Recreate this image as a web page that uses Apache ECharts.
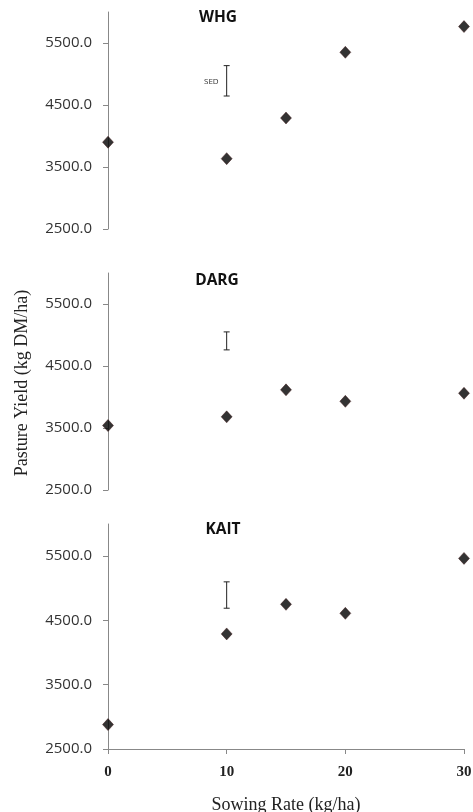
<!DOCTYPE html>
<html><head><meta charset="utf-8">
<script src="https://cdn.jsdelivr.net/npm/echarts@6/dist/echarts.min.js"></script>
<style>html,body{margin:0;padding:0;background:#fff}#c{width:473px;height:812px}</style>
</head><body><div id="c"></div>
<script>
const sowingRates = [0, 10, 15, 20, 30];
const panelNames = ['WHG', 'DARG', 'KAIT'];
const whgYield = [3900, 3635, 4290, 5350, 5765];
const dargYield = [3540, 3680, 4115, 3930, 4060];
const kaitYield = [2880, 4290, 4750, 4610, 5465];
const sedX = [10, 10, 10];
const sedLow = [4645, 4760, 4690];
const sedHigh = [5135, 5050, 5100];
const yTicks = [2500, 3500, 4500, 5500];
const xTicks = [0, 10, 20, 30];

const yields = [whgYield, dargYield, kaitYield];
const grids = [
  {left: 108, right: 9, top: 12, height: 217, outerBoundsMode: 'none'},
  {left: 108, right: 9, top: 273, height: 217, outerBoundsMode: 'none'},
  {left: 108, right: 9, top: 524, height: 225, outerBoundsMode: 'none'}
];
const titleTops = [10, 273, 522];
const titleLefts = [218, 217, 223];

const chart = echarts.init(document.getElementById('c'));
const option = {
  animation: false,
  backgroundColor: '#fff',
  title: panelNames.map((n, i) => ({
    text: n, left: titleLefts[i], top: titleTops[i], textAlign: 'center', padding: 0,
    textStyle: {fontFamily: 'Open Sans', fontWeight: 'bold', fontSize: 15.5, color: '#111'}
  })),
  grid: grids,
  xAxis: grids.map((g, i) => ({
    type: 'value', gridIndex: i, min: 0, max: 30, interval: 10,
    show: i === 2,
    splitLine: {show: false},
    axisLine: {show: true, lineStyle: {color: '#888'}},
    axisTick: {show: true, length: 5, lineStyle: {color: '#888'}, customValues: xTicks},
    axisLabel: {customValues: xTicks, margin: 16, fontFamily: 'Liberation Serif', fontSize: 15, fontWeight: 'bold', color: '#222'},
    name: i === 2 ? 'Sowing Rate (kg/ha)' : '',
    nameLocation: 'middle', nameGap: 47,
    nameTextStyle: {fontFamily: 'Liberation Serif', fontSize: 18, color: '#222'}
  })),
  yAxis: grids.map((g, i) => ({
    type: 'value', gridIndex: i, min: 2500, max: 6000, interval: 1000,
    splitLine: {show: false},
    axisLine: {show: true, lineStyle: {color: '#888'}},
    axisTick: {show: true, length: 5, lineStyle: {color: '#888'}, customValues: yTicks},
    axisLabel: {customValues: yTicks, margin: 16, fontFamily: 'Open Sans', fontSize: 15, color: '#333',
      formatter: v => v.toFixed(1)}
  })),
  graphic: [
    {type: 'text', x: 22, y: 383, rotation: Math.PI / 2,
      style: {text: 'Pasture Yield (kg DM/ha)', font: '18px "Liberation Serif"', fill: '#222', align: 'center', verticalAlign: 'middle'}},
    {type: 'text', x: 204, y: 78, style: {text: 'SED', font: '8px "Open Sans"', fill: '#333'}}
  ],
  series: []
};
yields.forEach((arr, i) => {
  option.series.push({
    type: 'scatter', xAxisIndex: i, yAxisIndex: i, clip: false,
    symbol: 'diamond', symbolSize: [11, 12],
    itemStyle: {color: '#000', borderColor: '#3a0a0a', borderWidth: 0.5},
    data: sowingRates.map((x, k) => [x, arr[k]])
  });
  option.series.push({
    type: 'custom', xAxisIndex: i, yAxisIndex: i,
    data: [[sedX[i], sedLow[i], sedHigh[i]]],
    renderItem: (params, api) => {
      const lo = api.coord([api.value(0), api.value(1)]);
      const hi = api.coord([api.value(0), api.value(2)]);
      const w = 3;
      const st = {stroke: '#222', lineWidth: 1};
      return {type: 'group', children: [
        {type: 'line', shape: {x1: lo[0], y1: lo[1], x2: hi[0], y2: hi[1]}, style: st},
        {type: 'line', shape: {x1: lo[0] - w, y1: lo[1], x2: lo[0] + w, y2: lo[1]}, style: st},
        {type: 'line', shape: {x1: hi[0] - w, y1: hi[1], x2: hi[0] + w, y2: hi[1]}, style: st}
      ]};
    }
  });
});
chart.setOption(option);
</script></body></html>
